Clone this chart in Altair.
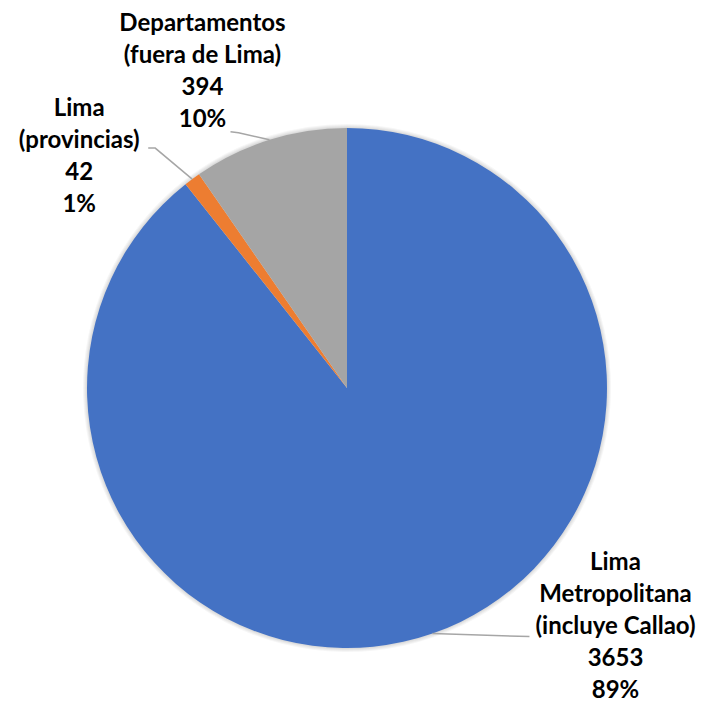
import math
import altair as alt
import pandas as pd

# ---- data ----
categories = ["Lima Metropolitana", "Lima (provincias)", "Departamentos"]
label_names = [
    "Lima\nMetropolitana\n(incluye Callao)",
    "Lima\n(provincias)",
    "Departamentos\n(fuera de Lima)",
]
values = [3653, 42, 394]
colors = ["#4472C4", "#ED7D31", "#A5A5A5"]

# ---- layout / style ----
W, H = 694, 630
R = 260
CX, CY = W / 2, H / 2
FONT = "Lato"
FS = 24
LH = 32
# offsets (px) of leader-line waypoints and label centres relative to the slice edge point
leader_offsets = {
    "Lima Metropolitana": [(0, 0), (97, 3), (97, 3)],
    "Lima (provincias)": [(0, 0), (-37, -31), (-44, -31)],
    "Departamentos": [(0, 0), (-31, -7), (-39, -8)],
}
label_offsets = {
    "Lima Metropolitana": (183, -7),
    "Lima (provincias)": (-113, -22),
    "Departamentos": (-67, -68),
}

total = sum(values)
rows, line_rows, text_rows = [], [], []
cum = 0
for i, (c, n, v) in enumerate(zip(categories, label_names, values)):
    pct = round(v / total * 100)
    mid = (cum + v / 2) / total * 2 * math.pi
    cum += v
    ex, ey = CX + R * math.sin(mid), CY - R * math.cos(mid)
    rows.append({"cat": c, "value": v, "order": i})
    for k, (ox, oy) in enumerate(leader_offsets[c]):
        line_rows.append({"cat": c, "k": k, "x": ex + ox, "y": ey + oy})
    label = f"{n}\n{v}\n{pct}%"
    nlines = label.count("\n") + 1
    lx, ly = label_offsets[c]
    text_rows.append({"cat": c, "x": ex + lx,
                      "y": ey + ly - (nlines - 1) * LH / 2,
                      "label": label})

df = pd.DataFrame(rows)
df_line = pd.DataFrame(line_rows)
df_text = pd.DataFrame(text_rows)

base = alt.Chart(df).encode(
    theta=alt.Theta("value:Q", stack=True),
    order=alt.Order("order:Q"),
)

shadows = [
    base.mark_arc(radius=R + i, color="#000000", opacity=0.035)
    for i in (4, 3, 2, 1)
]

pie = base.mark_arc(radius=R).encode(
    color=alt.Color("cat:N", scale=alt.Scale(domain=categories, range=colors), legend=None)
)

leaders = alt.Chart(df_line).mark_line(color="#A6A6A6", strokeWidth=1.5).encode(
    x=alt.X("x:Q", scale=None),
    y=alt.Y("y:Q", scale=None),
    detail="cat:N",
    order="k:Q",
)

labels = alt.Chart(df_text).mark_text(
    font=FONT, fontWeight="bold", fontSize=FS, lineBreak="\n", lineHeight=LH,
    align="center", baseline="middle", color="#000000",
).encode(
    x=alt.X("x:Q", scale=None),
    y=alt.Y("y:Q", scale=None),
    text="label:N",
)

chart = alt.layer(*shadows, pie, leaders, labels).properties(
    width=W, height=H,
    padding={"left": 0, "top": 73, "right": 13, "bottom": 0},
    autosize="none",
    background="white",
).configure_view(stroke=None)

chart.save("out.html", embed_options={"renderer": "svg", "actions": False})
